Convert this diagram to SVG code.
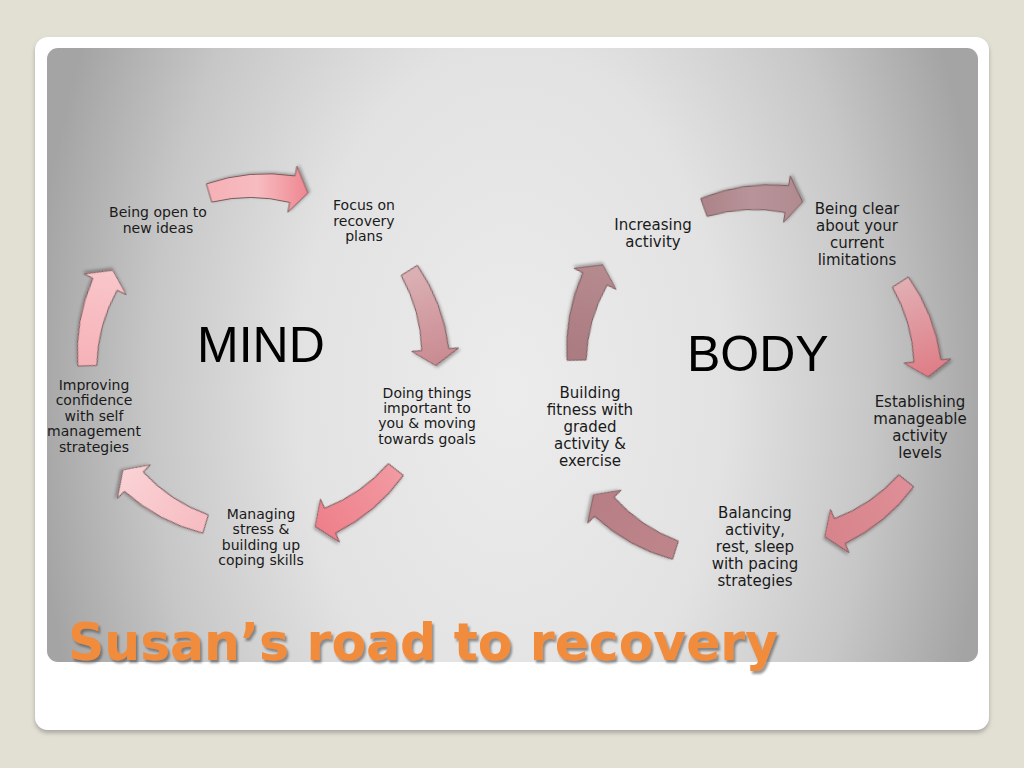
<svg xmlns="http://www.w3.org/2000/svg" xmlns:xlink="http://www.w3.org/1999/xlink" width="1024" height="768" viewBox="0 0 1024 768">
<style>
.lbl{font-family:"DejaVu Sans","Verdana",sans-serif;fill:#1a1a1a;text-anchor:middle}
.m{font-size:14px}
.b{font-size:15px}
.big{font-family:"Liberation Sans","Arial",sans-serif;font-size:50px;fill:#000}
.title{font-family:"DejaVu Sans","Verdana",sans-serif;font-weight:bold;font-size:52px;fill:#f28c3c}
.arr{stroke:#7a5a5c;stroke-width:1;stroke-linejoin:round}
</style>
<defs>
<radialGradient id="panelG" gradientUnits="userSpaceOnUse" cx="512" cy="390" r="480" gradientTransform="translate(512 390) scale(1 1.6) translate(-512 -390)">
<stop offset="0" stop-color="#ececec"/>
<stop offset="0.45" stop-color="#e2e2e2"/>
<stop offset="0.75" stop-color="#c7c7c7"/>
<stop offset="1" stop-color="#a4a4a4"/>
</radialGradient>
<filter id="sh" x="-30%" y="-30%" width="160%" height="160%">
<feDropShadow dx="1" dy="2" stdDeviation="1.5" flood-color="#000" flood-opacity="0.3"/>
</filter>
<filter id="tsh" x="-5%" y="-20%" width="110%" height="150%">
<feDropShadow dx="2" dy="3" stdDeviation="1.2" flood-color="#444" flood-opacity="0.55"/>
</filter>
<filter id="csh" x="-5%" y="-5%" width="110%" height="110%">
<feDropShadow dx="0" dy="3" stdDeviation="2" flood-color="#666" flood-opacity="0.45"/>
</filter>
<path id="arrow" class="arr" d="M9.11,-52.12 A185.5,185.5 0 0 1 17.08,36.52 L26.89,38.46 L0,49.42 L-19.21,29.31 L-9.40,31.26 A162.5,162.5 0 0 0 -9.10,-46.72 Z"/>
<linearGradient id="gM1" x1="0" y1="0" x2="0" y2="1"><stop offset="0" stop-color="#f5b0b5"/><stop offset="0.5" stop-color="#f7bcc0"/><stop offset="1" stop-color="#ef8690"/></linearGradient>
<linearGradient id="gM2" x1="0" y1="0" x2="0" y2="1"><stop offset="0" stop-color="#dcb2b6"/><stop offset="1" stop-color="#c98a91"/></linearGradient>
<linearGradient id="gM3" x1="0" y1="0" x2="0" y2="1"><stop offset="0" stop-color="#f29aa2"/><stop offset="1" stop-color="#ee7f8a"/></linearGradient>
<linearGradient id="gM4" x1="0" y1="0" x2="0" y2="1"><stop offset="0" stop-color="#f6bcc1"/><stop offset="1" stop-color="#fad2d5"/></linearGradient>
<linearGradient id="gM5" x1="0" y1="0" x2="0" y2="1"><stop offset="0" stop-color="#f6b2b8"/><stop offset="1" stop-color="#f9c6ca"/></linearGradient>
<linearGradient id="gB1" x1="0" y1="0" x2="0" y2="1"><stop offset="0" stop-color="#ab8287"/><stop offset="0.5" stop-color="#b8949a"/><stop offset="1" stop-color="#b08a8e"/></linearGradient>
<linearGradient id="gB2" x1="0" y1="0" x2="0" y2="1"><stop offset="0" stop-color="#e1b0b4"/><stop offset="1" stop-color="#df7c86"/></linearGradient>
<linearGradient id="gB3" x1="0" y1="0" x2="0" y2="1"><stop offset="0" stop-color="#df8f97"/><stop offset="1" stop-color="#d7838b"/></linearGradient>
<linearGradient id="gB4" x1="0" y1="0" x2="0" y2="1"><stop offset="0" stop-color="#be858b"/><stop offset="1" stop-color="#b87e85"/></linearGradient>
<linearGradient id="gB5" x1="0" y1="0" x2="0" y2="1"><stop offset="0" stop-color="#aa7a80"/><stop offset="1" stop-color="#b68b90"/></linearGradient>
</defs>

<rect x="0" y="0" width="1024" height="768" fill="#e2dfd3"/>
<rect x="35" y="37" width="954" height="693" rx="13" fill="#ffffff" filter="url(#csh)"/>
<rect x="47" y="48" width="931" height="614" rx="11" fill="url(#panelG)"/>

<g id="connectors">
<use xlink:href="#arrow" href="#arrow" fill="url(#gM1)" filter="url(#sh)" transform="translate(258.5 193) rotate(-90)"/>
<use xlink:href="#arrow" href="#arrow" fill="url(#gM2)" filter="url(#sh)" transform="translate(422.5 318) rotate(-15.5)"/>
<use xlink:href="#arrow" href="#arrow" fill="url(#gM3)" filter="url(#sh)" transform="translate(355.5 498) rotate(54.8)"/>
<use xlink:href="#arrow" href="#arrow" fill="url(#gM4)" filter="url(#sh)" transform="translate(164.25 497) rotate(123.2)"/>
<use xlink:href="#arrow" href="#arrow" fill="url(#gM5)" filter="url(#sh)" transform="translate(100 318) rotate(-165.1)"/>
<use xlink:href="#arrow" href="#arrow" fill="url(#gB1)" filter="url(#sh)" transform="translate(753.25 204.75) rotate(-93.2)"/>
<use xlink:href="#arrow" href="#arrow" fill="url(#gB2)" filter="url(#sh)" transform="translate(914.25 329.5) rotate(-16.3)"/>
<use xlink:href="#arrow" href="#arrow" fill="url(#gB3)" filter="url(#sh)" transform="translate(865.5 508.75) rotate(55.5)"/>
<use xlink:href="#arrow" href="#arrow" fill="url(#gB4)" filter="url(#sh)" transform="translate(634.5 522.5) rotate(124.1)"/>
<use xlink:href="#arrow" href="#arrow" fill="url(#gB5)" filter="url(#sh)" transform="translate(589.75 312.5) rotate(-164.6)"/>
</g>

<g id="mind-label"><text class="big" x="197" y="362">MIND</text></g>
<g id="body-label"><text class="big" x="687" y="371">BODY</text></g>

<g id="m-open"><text class="lbl m" x="158" y="217"><tspan x="158">Being open to</tspan><tspan x="158" dy="15.6">new ideas</tspan></text></g>
<g id="m-focus"><text class="lbl m" x="364" y="210"><tspan x="364">Focus on</tspan><tspan x="364" dy="15.5">recovery</tspan><tspan x="364" dy="15.5">plans</tspan></text></g>
<g id="m-doing"><text class="lbl m" x="427" y="397.5"><tspan x="427">Doing things</tspan><tspan x="427" dy="15.4">important to</tspan><tspan x="427" dy="15.4">you &amp; moving</tspan><tspan x="427" dy="15.4">towards goals</tspan></text></g>
<g id="m-managing"><text class="lbl m" x="261" y="519"><tspan x="261">Managing</tspan><tspan x="261" dy="15.4">stress &amp;</tspan><tspan x="261" dy="15.4">building up</tspan><tspan x="261" dy="15.4">coping skills</tspan></text></g>
<g id="m-improving"><text class="lbl m" x="94" y="390"><tspan x="94">Improving</tspan><tspan x="94" dy="15.4">confidence</tspan><tspan x="94" dy="15.4">with self</tspan><tspan x="94" dy="15.4">management</tspan><tspan x="94" dy="15.4">strategies</tspan></text></g>

<g id="b-increasing"><text class="lbl b" x="653" y="230"><tspan x="653">Increasing</tspan><tspan x="653" dy="17.3">activity</tspan></text></g>
<g id="b-clear"><text class="lbl b" x="857" y="213.5"><tspan x="857">Being clear</tspan><tspan x="857" dy="17">about your</tspan><tspan x="857" dy="17">current</tspan><tspan x="857" dy="17">limitations</tspan></text></g>
<g id="b-establishing"><text class="lbl b" x="920" y="407"><tspan x="920">Establishing</tspan><tspan x="920" dy="17">manageable</tspan><tspan x="920" dy="17">activity</tspan><tspan x="920" dy="17">levels</tspan></text></g>
<g id="b-balancing"><text class="lbl b" x="755" y="517.5"><tspan x="755">Balancing</tspan><tspan x="755" dy="17.2">activity,</tspan><tspan x="755" dy="17.2">rest, sleep</tspan><tspan x="755" dy="17.2">with pacing</tspan><tspan x="755" dy="17.2">strategies</tspan></text></g>
<g id="b-building"><text class="lbl b" x="590" y="397.5"><tspan x="590">Building</tspan><tspan x="590" dy="17.2">fitness with</tspan><tspan x="590" dy="17.2">graded</tspan><tspan x="590" dy="17.2">activity &amp;</tspan><tspan x="590" dy="17.2">exercise</tspan></text></g>

<g id="title"><text class="title" x="68" y="660" textLength="710" lengthAdjust="spacingAndGlyphs" filter="url(#tsh)">Susan’s road to recovery</text></g>
</svg>
